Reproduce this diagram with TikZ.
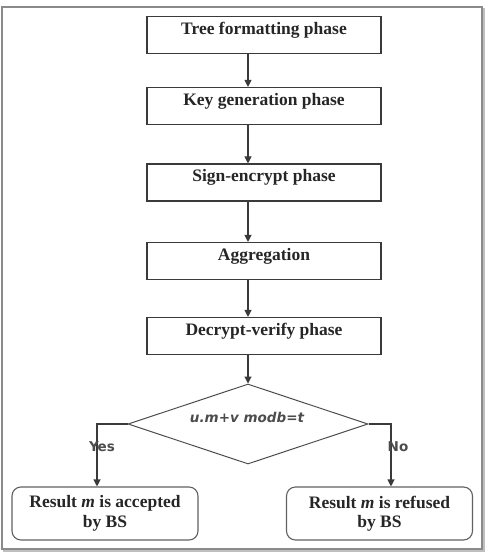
\documentclass[tikz,border=0pt]{standalone}
\usepackage{fontspec}
\setmainfont{Liberation Serif}
\newfontfamily\labelfont{DejaVu Sans}
\usetikzlibrary{shapes.geometric,arrows.meta}
\definecolor{ink}{HTML}{3A3A3A}
\definecolor{framegray}{HTML}{8A8A8A}
\begin{document}
\begin{tikzpicture}[x=1pt,y=-1pt,
  phase/.style={draw=ink, line width=1.1pt, rectangle, inner sep=0pt,
    minimum width=234pt, text height=18pt, text depth=19pt,
    font=\fontsize{17.5}{20}\selectfont\bfseries, text=black!85},
  result/.style={draw=ink!80, line width=1.1pt, rectangle, rounded corners=9pt,
    minimum width=186pt, minimum height=53pt, inner sep=0pt, align=center,
    font=\fontsize{17.5}{19.5}\selectfont\bfseries, text=black!85},
  test/.style={draw=ink!90, line width=1pt, diamond, aspect=3, inner sep=0pt,
    minimum width=240pt, minimum height=80pt},
  cond/.style={font=\labelfont\bfseries\itshape\fontsize{13.5}{16}\selectfont, text=black!70},
  flow/.style={draw=ink, line width=1.1pt, -{Triangle[length=7pt,width=7pt]}},
  tag/.style={font=\labelfont\bfseries\fontsize{13.5}{16}\selectfont, text=black!70}
]
\useasboundingbox (0,0) rectangle (487,553);
% outer frame with a light shadow
\draw[black!25, line width=2pt] (4,9) rectangle (484,551);
\draw[framegray, line width=1.3pt, fill=white] (2,7) rectangle (482,549);

% phases
\node[phase] (p1) at (264,35) {Tree formatting phase};
\node[phase] (p2) at (264,106) {Key generation phase};
\node[phase] (p3) at (264,182.5) {Sign-encrypt phase};
\node[phase] (p4) at (264,261) {Aggregation};
\node[phase] (p5) at (264,336) {Decrypt-verify phase};

% decision
\node[test] (d) at (248,424) {};
\node[cond] (dt) at (247,417) {u.m+v modb=t};

% outcomes
\node[result] (yes) at (105,513.5) {Result \textit{m} is accepted\\by BS};
\node[result] (no) at (379.5,513.5) {Result \textit{m} is refused\\by BS};

% connectors
\draw[flow] (p1.south -| d.north) -- (p2.north -| d.north);
\draw[flow] (p2.south -| d.north) -- (p3.north -| d.north);
\draw[flow] (p3.south -| d.north) -- (p4.north -| d.north);
\draw[flow] (p4.south -| d.north) -- (p5.north -| d.north);
\draw[flow] (p5.south -| d.north) -- (d.north);
\draw[flow] (d.west) -| ([xshift=-8pt]yes.north);
\draw[flow] (d.east) -| ([xshift=11.5pt]no.north);

% branch labels
\node[tag] (ly) at (102,447) {Yes};
\node[tag] (ln) at (398,447) {No};
\end{tikzpicture}
\end{document}
